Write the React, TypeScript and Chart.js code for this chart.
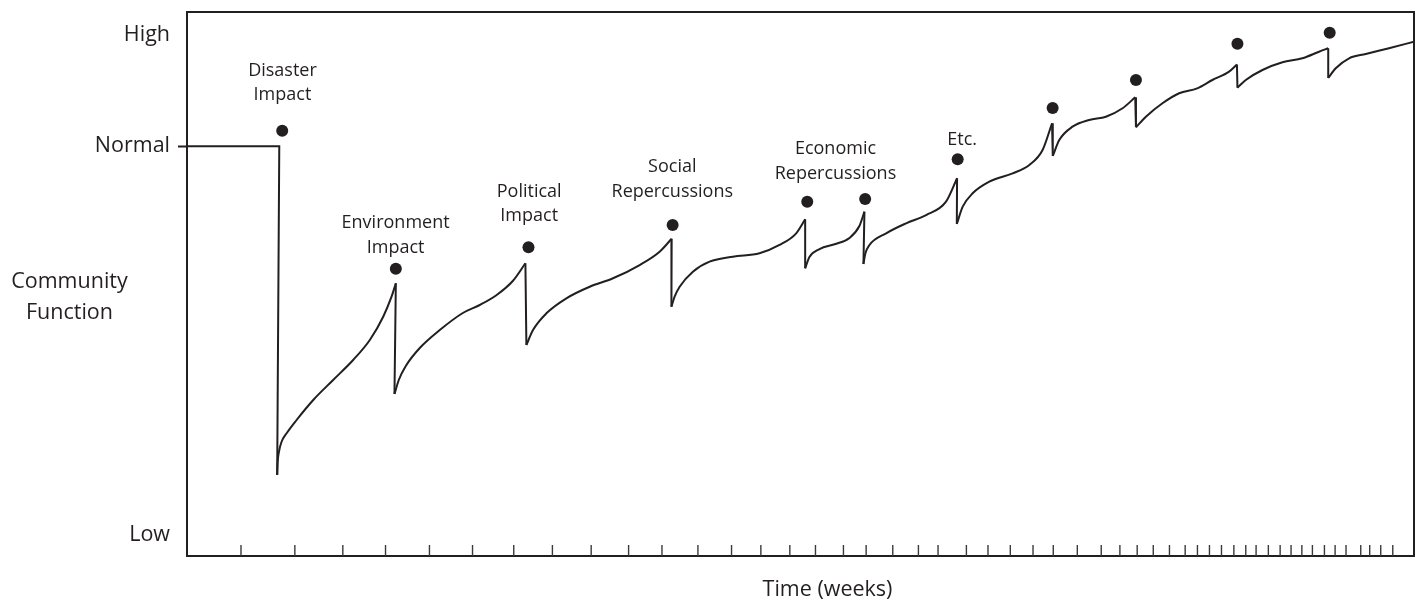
import { useEffect, useRef } from 'react';
import { Chart, registerables } from 'chart.js';

Chart.register(...registerables);

const INK = '#231f20';

// Community function level before the disaster, and the time of the disaster
const NORMAL_LEVEL = 75.3;
const DISASTER_TIME = 7.52;

// y-axis labels (0 = lowest, 100 = highest community function)
const Y_TICK_VALUES = [3.95, 75.3, 95.8];
const Y_TICK_LABELS = ['Low', 'Normal', 'High'];

// time tick marks along the bottom (weeks, unevenly spaced)
const X_TICKS = [
  4.4, 8.79, 12.7, 16.18, 19.76, 23.27, 26.63, 29.78, 32.94, 35.99, 38.71, 41.64, 44.38,
  46.77, 49.13, 51.22, 53.5, 55.35, 57.52, 59.61, 61.21, 63.52, 65.28, 67.1, 68.95, 70.6,
  72.56, 74.51, 76.03, 77.44, 78.75, 80.07, 81.35, 82.35, 83.33, 84.31, 85.32, 86.29,
  87.13, 88.13, 89.09, 89.98, 90.86, 91.72, 92.7, 93.57, 94.46, 95.66, 96.39, 97.29, 98.27,
];

// recovery curves: from each trough up to the next impact
const CURVE_TIMES = [
  [7.35, 7.39, 7.49, 7.7, 8.12, 8.93, 10.29, 11.91, 13.54, 14.9, 15.99, 16.67, 17.02],
  [16.91, 17.26, 17.83, 18.97, 20.6, 22.48, 23.86, 25.24, 26.55, 27.58],
  [27.66, 28.2, 29.29, 30.92, 32.82, 34.72, 36.89, 38.52, 39.5],
  [39.48, 39.74, 40.15, 41.23, 42.59, 44.49, 46.66, 48.29, 49.65, 50.38],
  [50.38, 50.73, 51.55, 52.85, 53.99, 54.8, 55.21],
  [55.13, 55.29, 55.62, 56.98, 58.61, 60.24, 61.86, 62.76],
  [62.74, 63.22, 64.03, 65.39, 67.29, 68.65, 69.73, 70.5],
  [70.56, 71.09, 72.17, 73.53, 74.89, 76.25, 77.28],
  [77.34, 78.15, 79.5, 80.86, 82.33, 83.57, 84.93, 85.57],
  [85.61, 86.29, 87.65, 89.28, 90.9, 92.26, 93.01],
  [93.01, 93.62, 94.71, 96.07, 97.96, 100],
];
const CURVE_LEVELS = [
  [14.89, 17.28, 19.12, 20.96, 22.56, 25.0, 28.68, 32.35, 36.03, 39.71, 43.99, 47.67, 50.13],
  [29.78, 32.35, 34.93, 38.24, 41.54, 44.67, 46.14, 47.98, 50.55, 53.81],
  [38.79, 41.54, 44.61, 47.37, 49.5, 51.05, 53.49, 55.94, 58.31],
  [45.83, 47.67, 49.5, 52.26, 54.1, 55.02, 55.64, 57.17, 59.32, 61.89],
  [52.89, 54.96, 56.43, 57.35, 58.46, 60.66, 63.29],
  [53.68, 55.64, 57.17, 59.32, 61.16, 62.68, 65.13, 69.43],
  [61.03, 64.21, 66.67, 68.81, 70.35, 71.88, 74.63, 79.54],
  [73.53, 76.47, 78.92, 80.15, 80.75, 82.3, 84.32],
  [78.81, 80.75, 83.22, 85.06, 85.97, 87.5, 89.03, 90.35],
  [86.07, 87.5, 89.34, 90.75, 91.49, 92.7, 93.33],
  [87.87, 89.65, 91.49, 92.28, 93.33, 94.54],
];

// impact markers (dots)
const EVENT_TIMES = [7.76, 17.02, 27.83, 39.58, 50.55, 55.27, 62.81, 70.55, 77.34, 85.61, 93.13];
const EVENT_LEVELS = [78.18, 52.81, 56.75, 60.85, 65.13, 65.63, 72.92, 82.35, 87.5, 94.17, 96.19];

// event labels (baseline of first line)
const LABEL_LINES = [
  ['Disaster', 'Impact'],
  ['Environment', 'Impact'],
  ['Political', 'Impact'],
  ['Social', 'Repercussions'],
  ['Economic', 'Repercussions'],
  ['Etc.'],
];
const LABEL_TIMES = [7.78, 17.0, 27.89, 39.55, 52.85, 63.18];
const LABEL_LEVELS = [88.24, 60.29, 66.05, 70.5, 73.84, 75.55];

const Y_TITLE_LINES = ['Community', 'Function'];
const Y_TITLE_LEVEL = 49.2;
const X_TITLE = 'Time (weeks)';
const X_TITLE_TIME = 52.2;

const FONT = '"Open Sans", "Noto Sans", sans-serif';

function buildRecovery() {
  const pts: { x: number; y: number | null }[] = [];
  CURVE_TIMES.forEach((times, i) => {
    times.forEach((t, j) => pts.push({ x: t, y: CURVE_LEVELS[i][j] }));
    pts.push({ x: times[times.length - 1], y: null });
  });
  return pts;
}

function buildDrops() {
  const pts: { x: number; y: number | null }[] = [
    { x: 0, y: NORMAL_LEVEL },
    { x: DISASTER_TIME, y: NORMAL_LEVEL },
    { x: CURVE_TIMES[0][0], y: CURVE_LEVELS[0][0] },
    { x: CURVE_TIMES[0][0], y: null },
  ];
  for (let i = 1; i < CURVE_TIMES.length; i++) {
    const pt = CURVE_TIMES[i - 1];
    const pl = CURVE_LEVELS[i - 1];
    pts.push({ x: pt[pt.length - 1], y: pl[pl.length - 1] });
    pts.push({ x: CURVE_TIMES[i][0], y: CURVE_LEVELS[i][0] });
    pts.push({ x: CURVE_TIMES[i][0], y: null });
  }
  return pts;
}

const overlayPlugin = {
  id: 'overlay',
  afterDraw(chart: any) {
    const { ctx, chartArea: a, scales } = chart;
    const x = scales.x;
    const y = scales.y;
    ctx.save();
    // frame
    ctx.strokeStyle = INK;
    ctx.lineWidth = 2;
    ctx.strokeRect(a.left, a.top, a.right - a.left, a.bottom - a.top);
    // inner time ticks
    ctx.strokeStyle = '#3a3a3a';
    ctx.lineWidth = 1.4;
    X_TICKS.forEach((t) => {
      const px = x.getPixelForValue(t);
      ctx.beginPath();
      ctx.moveTo(px, a.bottom);
      ctx.lineTo(px, a.bottom - 11);
      ctx.stroke();
    });
    // event labels
    ctx.fillStyle = INK;
    ctx.textAlign = 'center';
    ctx.textBaseline = 'alphabetic';
    ctx.font = `18px ${FONT}`;
    LABEL_LINES.forEach((lines, i) => {
      const px = x.getPixelForValue(LABEL_TIMES[i]);
      const py = y.getPixelForValue(LABEL_LEVELS[i]);
      lines.forEach((s, j) => ctx.fillText(s, px, py + j * 24.5));
    });
    // axis titles
    ctx.font = `21.5px ${FONT}`;
    const cy = y.getPixelForValue(Y_TITLE_LEVEL);
    Y_TITLE_LINES.forEach((s, j) => ctx.fillText(s, y.left + 69.5, cy + j * 30.7));
    ctx.fillText(X_TITLE, x.getPixelForValue(X_TITLE_TIME), a.bottom + 40);
    ctx.restore();
  },
};

export default function App() {
  const ref = useRef<HTMLCanvasElement | null>(null);

  useEffect(() => {
    document.body.style.margin = '0';
    if (!ref.current) return;
    const chart = new Chart(ref.current, {
      type: 'line',
      data: {
        datasets: [
          {
            data: buildRecovery() as any,
            borderColor: INK,
            borderWidth: 2,
            pointRadius: 0,
            fill: false,
            cubicInterpolationMode: 'monotone',
            spanGaps: false,
          },
          {
            data: buildDrops() as any,
            borderColor: INK,
            borderWidth: 2,
            pointRadius: 0,
            fill: false,
            tension: 0,
            spanGaps: false,
          },
          {
            data: EVENT_TIMES.map((t, i) => ({ x: t, y: EVENT_LEVELS[i] })) as any,
            showLine: false,
            pointRadius: 6,
            pointBackgroundColor: INK,
            pointBorderWidth: 0,
            borderColor: INK,
          },
        ],
      },
      options: {
        animation: false,
        responsive: false,
        devicePixelRatio: 1,
        layout: { padding: { top: 12, right: 5, left: 0, bottom: 0 } },
        plugins: { legend: { display: false }, tooltip: { enabled: false } },
        events: [],
        scales: {
          x: {
            type: 'linear',
            min: 0,
            max: 100,
            ticks: { display: false },
            grid: { display: false },
            border: { display: false },
            afterFit: (s: any) => {
              s.height = 45;
              s.paddingLeft = 0;
              s.paddingRight = 0;
            },
          },
          y: {
            type: 'linear',
            min: 0,
            max: 100,
            afterBuildTicks: (s: any) => {
              s.ticks = Y_TICK_VALUES.map((v) => ({ value: v }));
            },
            ticks: {
              autoSkip: false,
              padding: 8,
              color: INK,
              font: { family: FONT, size: 21.5 },
              callback: (_v: any, i: number) => Y_TICK_LABELS[i],
            },
            grid: {
              display: true,
              drawOnChartArea: false,
              drawTicks: true,
              tickLength: 9,
              tickWidth: 2,
              tickColor: (c: any) =>
                c.tick && c.tick.value === NORMAL_LEVEL ? INK : 'rgba(0,0,0,0)',
            },
            border: { display: false },
            afterFit: (s: any) => {
              s.width = 187;
              s.paddingTop = 0;
              s.paddingBottom = 0;
            },
          },
        },
      },
      plugins: [overlayPlugin],
    });
    return () => chart.destroy();
  }, []);

  return <canvas ref={ref} width={1420} height={601} style={{ display: 'block' }} />;
}
